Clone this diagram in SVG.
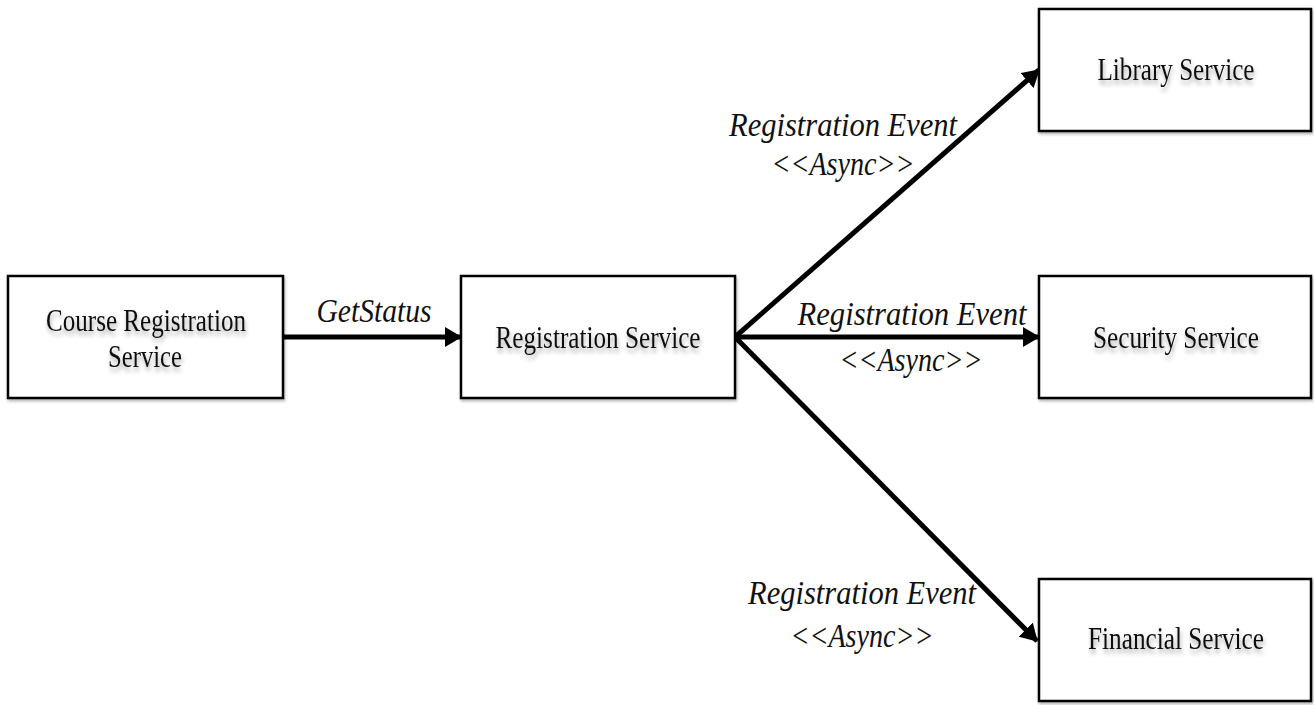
<svg xmlns="http://www.w3.org/2000/svg" width="1314" height="705" viewBox="0 0 1314 705">
  <style>
    .box { fill: #ffffff; stroke: #000000; stroke-width: 2.5; filter: url(#boxShadow); }
    .name { font-family: "Liberation Serif", "Times New Roman", serif; font-size: 25px; fill: #111111; text-anchor: middle; filter: url(#textShadow); }
    .lbl { font-family: "Liberation Serif", "Times New Roman", serif; font-style: italic; font-size: 30px; fill: #111111; text-anchor: middle; }
    .wire { stroke: #000000; stroke-width: 5; fill: none; marker-end: url(#head); }
  </style>
  <defs>
    <marker id="head" markerUnits="userSpaceOnUse" markerWidth="18" markerHeight="20" refX="16" refY="10" orient="auto">
      <path d="M0,0 L17,10 L0,20 Z" fill="#000000"/>
    </marker>
    <filter id="textShadow" x="-10%" y="-30%" width="120%" height="180%">
      <feGaussianBlur in="SourceAlpha" stdDeviation="2"/>
      <feOffset dx="1" dy="3" result="b"/>
      <feComponentTransfer><feFuncA type="linear" slope="0.35"/></feComponentTransfer>
      <feMerge><feMergeNode/><feMergeNode in="SourceGraphic"/></feMerge>
    </filter>
    <filter id="boxShadow" x="-5%" y="-10%" width="110%" height="125%">
      <feGaussianBlur in="SourceAlpha" stdDeviation="1.5"/>
      <feOffset dx="1" dy="2" result="b"/>
      <feComponentTransfer><feFuncA type="linear" slope="0.3"/></feComponentTransfer>
      <feMerge><feMergeNode/><feMergeNode in="SourceGraphic"/></feMerge>
    </filter>
  </defs>

  <rect width="1314" height="705" fill="#ffffff"/>

  <!-- connectors and their labels -->
  <g id="connectors">
    <line class="wire" x1="283" y1="337" x2="461" y2="337"/>
    <line class="wire" x1="735" y1="337" x2="1039" y2="70"/>
    <line class="wire" x1="735" y1="337" x2="1039" y2="337"/>
    <line class="wire" x1="735" y1="337" x2="1037" y2="641"/>

    <text class="lbl" transform="translate(374,322) scale(1,1.1)" textLength="115" lengthAdjust="spacingAndGlyphs">GetStatus</text>

    <text class="lbl" transform="translate(843,136) scale(1,1.1)" textLength="228" lengthAdjust="spacingAndGlyphs">Registration Event</text>
    <text class="lbl" transform="translate(843,175) scale(1,1.1)" textLength="143" lengthAdjust="spacingAndGlyphs">&lt;&lt;Async&gt;&gt;</text>

    <text class="lbl" transform="translate(912,325) scale(1,1.1)" textLength="229" lengthAdjust="spacingAndGlyphs">Registration Event</text>
    <text class="lbl" transform="translate(911,371) scale(1,1.1)" textLength="143" lengthAdjust="spacingAndGlyphs">&lt;&lt;Async&gt;&gt;</text>

    <text class="lbl" transform="translate(862,604) scale(1,1.1)" textLength="228" lengthAdjust="spacingAndGlyphs">Registration Event</text>
    <text class="lbl" transform="translate(862,647) scale(1,1.1)" textLength="143" lengthAdjust="spacingAndGlyphs">&lt;&lt;Async&gt;&gt;</text>
  </g>

  <!-- services -->
  <g id="course-registration">
    <rect class="box" x="8" y="276" width="275" height="122"/>
    <text class="name" transform="translate(146,331) scale(1,1.25)" textLength="200" lengthAdjust="spacingAndGlyphs">Course Registration</text>
    <text class="name" transform="translate(145,367) scale(1,1.25)" textLength="74" lengthAdjust="spacingAndGlyphs">Service</text>
  </g>

  <g id="registration">
    <rect class="box" x="461" y="276" width="274" height="122"/>
    <text class="name" transform="translate(598,348) scale(1,1.25)" textLength="205" lengthAdjust="spacingAndGlyphs">Registration Service</text>
  </g>

  <g id="library">
    <rect class="box" x="1039" y="9" width="272" height="122"/>
    <text class="name" transform="translate(1176,80) scale(1,1.25)" textLength="157" lengthAdjust="spacingAndGlyphs">Library Service</text>
  </g>

  <g id="security">
    <rect class="box" x="1039" y="276" width="272" height="122"/>
    <text class="name" transform="translate(1176,348) scale(1,1.25)" textLength="166" lengthAdjust="spacingAndGlyphs">Security Service</text>
  </g>

  <g id="financial">
    <rect class="box" x="1039" y="579" width="272" height="122"/>
    <text class="name" transform="translate(1176,649) scale(1,1.25)" textLength="176" lengthAdjust="spacingAndGlyphs">Financial Service</text>
  </g>
</svg>
